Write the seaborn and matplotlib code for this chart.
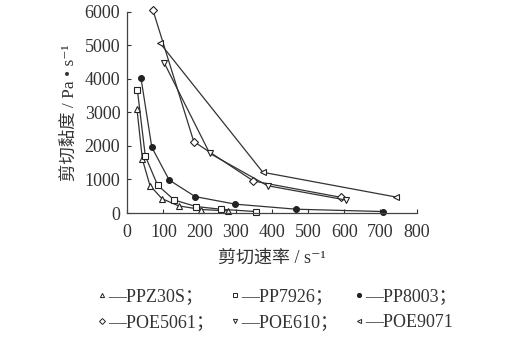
import matplotlib
matplotlib.use("Agg")
import matplotlib.pyplot as plt
from matplotlib.lines import Line2D
import seaborn as sns
import pandas as pd

# shear rate (s^-1) and shear viscosity (Pa.s)
ppz30s_x = [27, 42, 63, 96, 142, 205, 280]
ppz30s_y = [3100, 1600, 820, 430, 215, 105, 65]

pp7926_x = [28, 50, 84, 130, 190, 258, 355]
pp7926_y = [3680, 1700, 830, 390, 195, 115, 45]

pp8003_x = [38, 68, 116, 188, 299, 467, 708]
pp8003_y = [4030, 1960, 985, 490, 265, 115, 45]

poe5061_x = [71, 184, 349, 590]
poe5061_y = [6050, 2130, 955, 470]

poe610_x = [103, 228, 388, 604]
poe610_y = [4460, 1780, 815, 390]

poe9071_x = [91, 375, 742]
poe9071_y = [5060, 1215, 480]

names = ["PPZ30S", "PP7926", "PP8003", "POE5061", "POE610", "POE9071"]
xs = [ppz30s_x, pp7926_x, pp8003_x, poe5061_x, poe610_x, poe9071_x]
ys = [ppz30s_y, pp7926_y, pp8003_y, poe5061_y, poe610_y, poe9071_y]
markers = ["^", "s", "o", "D", "v", "<"]
fills = ["white", "white", "#222222", "white", "white", "white"]

sns.set_style("ticks")
plt.rcParams["font.family"] = ["Liberation Serif", "Noto Sans CJK SC", "DejaVu Sans"]

fig = plt.figure(figsize=(5.3, 3.42), dpi=100)
ax = fig.add_axes([0.24, 0.377, 0.546, 0.589])

handles = []
for name, x, y, m, fc in zip(names, xs, ys, markers, fills):
    df = pd.DataFrame({"rate": x, "visc": y})
    sns.lineplot(data=df, x="rate", y="visc", ax=ax, sort=False,
                 color="#333333", linewidth=0.9, marker=m, markersize=4.2,
                 markerfacecolor=fc, markeredgecolor="#222222",
                 markeredgewidth=0.8, clip_on=False, legend=False)
    handles.append(Line2D([], [], linestyle="none", marker=m, markersize=3,
                          markerfacecolor=fc, markeredgecolor="#222222",
                          markeredgewidth=0.7))

ax.set_xlim(0, 800)
ax.set_ylim(0, 6000)
ax.set_xticks(range(0, 801, 100))
ax.set_yticks(range(0, 6001, 1000))
ax.tick_params(direction="in", length=3, width=0.8, labelsize=13,
               colors="#333333")
ax.tick_params(axis="x", pad=8)
ax.tick_params(axis="y", pad=5)
for s in ["left", "bottom"]:
    ax.spines[s].set_color("#444444")
    ax.spines[s].set_linewidth(0.9)
sns.despine(ax=ax)

ax.set_xlabel("剪切速率 / s⁻¹", fontsize=13, color="#333333", labelpad=6)
ax.set_ylabel("剪切黏度 / Pa • s⁻¹", fontsize=12.5, color="#333333", labelpad=5)

labels = ["—" + n + ("；" if i < 5 else "") for i, n in enumerate(names)]
# legend fills column by column, so reorder to read row by row
order = [0, 3, 1, 4, 2, 5]
fig.legend([handles[i] for i in order], [labels[i] for i in order],
           loc="center", bbox_to_anchor=(0.522, 0.094),
           ncol=3, frameon=False, fontsize=13, handlelength=0.6,
           handletextpad=0.0, columnspacing=0.9, labelspacing=0.5,
           labelcolor="#333333")

plt.savefig("out.png", dpi=100)
